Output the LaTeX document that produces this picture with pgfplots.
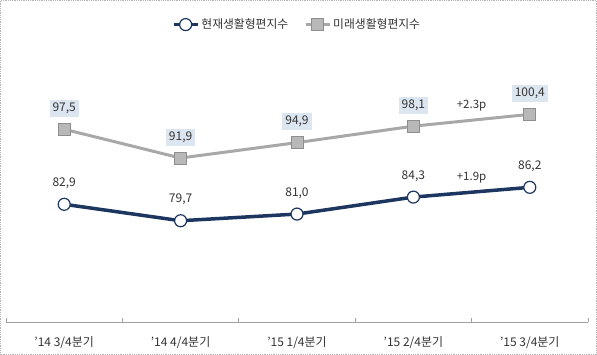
\documentclass[border=0pt]{standalone}
\usepackage{pgfplots}
\pgfplotsset{compat=1.18}
\usepackage{fontspec}
\setmainfont{Noto Sans CJK KR}
\definecolor{navy}{HTML}{1C365F}
\definecolor{grayline}{HTML}{A8A8A8}
\definecolor{grayfill}{HTML}{B8B8B8}
\definecolor{grayedge}{HTML}{8E8E8E}
\definecolor{boxfill}{HTML}{DCE6F1}
\definecolor{txt}{HTML}{333333}
\definecolor{axisgray}{HTML}{A0A0A0}
\begin{document}
\begin{tikzpicture}[x=1pt,y=1pt]
\useasboundingbox (0,0) rectangle (597,355);
\begin{axis}[
  at={(6pt,33pt)}, anchor=south west,
  scale only axis, width=582pt, height=308.4pt,
  xmin=-0.5, xmax=4.5, ymin=60, ymax=120,
  axis x line*=bottom, axis y line=none,
  axis line style={axisgray, line width=0.8pt},
  xtick={0,1,2,3,4},
  xticklabels={'14 3/4분기,'14 4/4분기,'15 1/4분기,'15 2/4분기,'15 3/4분기},
  major tick length=0pt,
  minor xtick={-0.5,0.5,1.5,2.5,3.5,4.5},
  minor tick length=4pt, tick align=inside,
  every minor tick/.style={axisgray, line width=0.8pt},
  xticklabel style={font=\fontsize{12}{14}\selectfont, text=txt, anchor=center, yshift=-21pt},
  clip=false,
  point meta=explicit symbolic,
  legend columns=2,
  legend style={at={(0.5,1)}, anchor=center, yshift=-11pt, draw=none, fill=none,
    font=\fontsize{11.8}{14}\selectfont, text=txt,
    /tikz/every even column/.append style={column sep=14pt}},
  legend image code/.code={\draw[mark repeat=2,mark phase=2] plot coordinates {(0pt,0pt) (12pt,0pt) (24pt,0pt)};},
]
\addplot[navy, line width=3.5pt, mark=*, mark size=6pt,
  mark options={fill=white, draw=navy, line width=1.2pt},
  nodes near coords, every node near coord/.append style={font=\fontsize{12}{14}\selectfont, text=txt, anchor=center, yshift=21pt}]
  table[meta=lab] {
x y lab
0 82.9 82,9
1 79.7 79,7
2 81.0 81,0
3 84.3 84,3
4 86.2 86,2
};
\addlegendentry{현재생활형편지수}
\addplot[grayline, line width=3pt, mark=square*, mark size=6pt,
  mark options={fill=grayfill, draw=grayedge, line width=0.8pt},
  nodes near coords, every node near coord/.append style={font=\fontsize{12}{14}\selectfont, text=txt, fill=boxfill, inner sep=3pt, anchor=center, yshift=21pt}]
  table[meta=lab] {
x y lab
0 97.5 97,5
1 91.9 91,9
2 94.9 94,9
3 98.1 98,1
4 100.4 100,4
};
\addlegendentry{미래생활형편지수}
\node[font=\fontsize{11.5}{13}\selectfont, text=txt] at (axis cs:3.5,102.0) {+2.3p};
\node[font=\fontsize{11.5}{13}\selectfont, text=txt] at (axis cs:3.5,88.0) {+1.9p};
\end{axis}
\draw[gray!60, densely dotted, line width=0.8pt] (0.5,0.5) rectangle (596.5,354.5);
\end{tikzpicture}
\end{document}
